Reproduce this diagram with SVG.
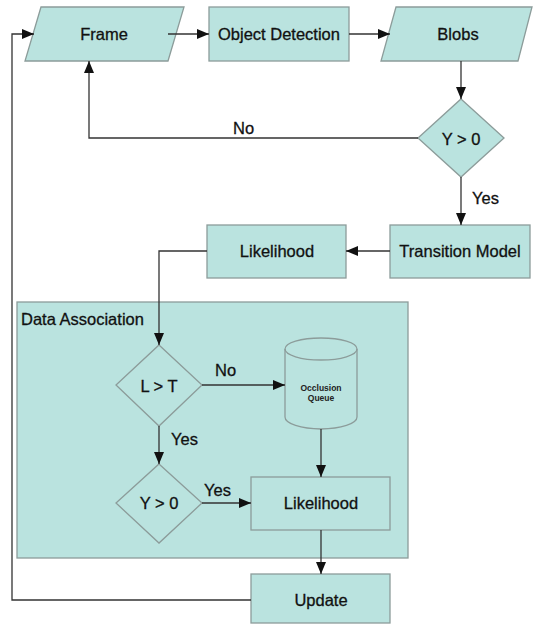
<svg xmlns="http://www.w3.org/2000/svg" width="535" height="624" viewBox="0 0 535 624">
<style>
.s{fill:#bae3df;stroke:#8c9c9a;stroke-width:1.3}
.c{fill:none;stroke:#333;stroke-width:1.3}
.t{font-family:"Liberation Sans",Arial,sans-serif;font-size:16.5px;fill:#111;stroke:#111;stroke-width:0.3;text-anchor:middle;dominant-baseline:central}
.l{font-family:"Liberation Sans",Arial,sans-serif;font-size:16.5px;fill:#111;stroke:#111;stroke-width:0.3}
.q{font-family:"Liberation Sans",Arial,sans-serif;font-size:8.5px;font-weight:bold;fill:#222;text-anchor:middle}
</style>
<defs>
<marker id="a" viewBox="0 0 12 10" refX="12" refY="5" markerWidth="12" markerHeight="10" markerUnits="userSpaceOnUse" orient="auto">
<path d="M0,0 L12,5 L0,10 z" fill="#111"/>
</marker>
</defs>
<rect id="data-association" class="s" x="17" y="302" width="391" height="256"/>
<text class="l" x="21" y="325">Data Association</text>
<g id="frame"><polygon class="s" points="41,7 184,7 168,61 25,61"/><text class="t" x="104" y="34">Frame</text></g>
<g id="object-detection"><rect class="s" x="209" y="7" width="140" height="54"/><text class="t" x="279" y="34">Object Detection</text></g>
<g id="blobs"><polygon class="s" points="396,7 532,7 518,61 381,61"/><text class="t" x="458" y="34">Blobs</text></g>
<g id="decision-y1"><polygon class="s" points="461,99 504,138 461,177 418,138"/><text class="t" x="461" y="139">Y &gt; 0</text></g>
<g id="transition-model"><rect class="s" x="390" y="225" width="140" height="53"/><text class="t" x="460" y="251">Transition Model</text></g>
<g id="likelihood-1"><rect class="s" x="207" y="225" width="139" height="53"/><text class="t" x="277" y="251">Likelihood</text></g>
<g id="decision-lt"><polygon class="s" points="159,345 202,385 159,426 116,385"/><text class="t" x="159" y="386">L &gt; T</text></g>
<g id="occlusion-queue"><path class="s" d="M285,349 A36,11 0 0 1 357,349 L357,417 A36,12 0 0 1 285,417 Z"/><path class="s" style="fill:none" d="M285,349 A36,11 0 0 0 357,349"/><text class="q" x="321" y="391">Occlusion</text><text class="q" x="321" y="401">Queue</text></g>
<g id="decision-y2"><polygon class="s" points="159,464 202,503 159,543 116,503"/><text class="t" x="159" y="503">Y &gt; 0</text></g>
<g id="likelihood-2"><rect class="s" x="251" y="477" width="139" height="53"/><text class="t" x="321" y="503">Likelihood</text></g>
<g id="update"><rect class="s" x="251" y="574" width="139" height="49"/><text class="t" x="321" y="600">Update</text></g>
<g id="connectors">
<path class="c" d="M168,34 H209" marker-end="url(#a)"/>
<path class="c" d="M349,34 H390" marker-end="url(#a)"/>
<path class="c" d="M461,61 V99" marker-end="url(#a)"/>
<path class="c" d="M418,138 H89 V61" marker-end="url(#a)"/>
<path class="c" d="M461,177 V225" marker-end="url(#a)"/>
<path class="c" d="M390,251 H346" marker-end="url(#a)"/>
<path class="c" d="M207,251 H159 V345" marker-end="url(#a)"/>
<path class="c" d="M202,385 H285" marker-end="url(#a)"/>
<path class="c" d="M159,426 V464" marker-end="url(#a)"/>
<path class="c" d="M321,429 V477" marker-end="url(#a)"/>
<path class="c" d="M202,503 H251" marker-end="url(#a)"/>
<path class="c" d="M321,530 V574" marker-end="url(#a)"/>
<path class="c" d="M251,600 H12 V34 H34" marker-end="url(#a)"/>
<text class="l" x="233" y="134">No</text>
<text class="l" x="472" y="204">Yes</text>
<text class="l" x="215" y="376">No</text>
<text class="l" x="171" y="445">Yes</text>
<text class="l" x="204" y="496">Yes</text>
</g>
</svg>
